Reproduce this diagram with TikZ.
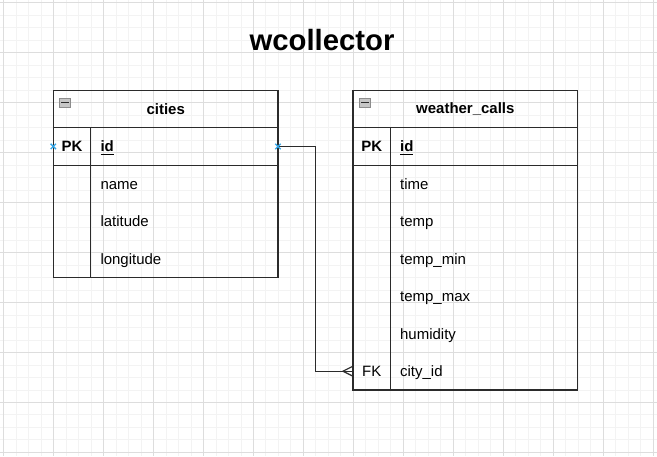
\documentclass[tikz,border=0pt]{standalone}
\usepackage{fontspec}
\setmainfont{Liberation Sans}
\usetikzlibrary{positioning}

\definecolor{gridminor}{HTML}{F3F3F3}
\definecolor{gridmajor}{HTML}{DDDDDD}
\definecolor{linedark}{HTML}{2B2B2B}
\definecolor{markblue}{HTML}{33A6E8}
\definecolor{iconfill}{HTML}{C6C6C6}
\definecolor{iconline}{HTML}{8C8C8C}

\begin{document}
\begin{tikzpicture}[x=0.75pt,y=-0.75pt,node distance=0pt,line width=0.9pt,
    table head/.style={draw=linedark,minimum width=168.75pt,minimum height=28.125pt,inner sep=0pt,outer sep=0pt,font=\fontsize{11.25}{13.5}\selectfont\bfseries},
    key cell/.style={minimum width=28.125pt,minimum height=28.125pt,inner sep=0pt,outer sep=0pt,text height=8.2pt,text depth=0.2pt,font=\fontsize{11.25}{13.5}\selectfont},
    field cell/.style={minimum height=28.125pt,text width=126pt,inner xsep=7.3pt,inner ysep=0pt,outer sep=0pt,align=left,text height=8.2pt,text depth=0.2pt,font=\fontsize{11.25}{13.5}\selectfont},
    collapse box/.style={draw=iconline,fill=iconfill,line width=0.5pt,minimum width=8pt,minimum height=7pt,inner sep=0pt},
    marker/.style={draw=markblue,line width=1pt},
    frame/.style={draw=linedark}]

    % background grid
    \fill[white] (0,0) rectangle (657,456);
    \foreach \i in {0,...,52}
        \draw[gridminor,line width=0.6pt] ({3.3+12.5*\i},0) -- ({3.3+12.5*\i},456);
    \foreach \i in {0,...,36}
        \draw[gridminor,line width=0.6pt] (0,{2.5+12.5*\i}) -- (657,{2.5+12.5*\i});
    \foreach \i in {0,...,13}
        \draw[gridmajor,line width=0.6pt] ({3.3+50*\i},0) -- ({3.3+50*\i},456);
    \foreach \i in {0,...,9}
        \draw[gridmajor,line width=0.6pt] (0,{2.5+50*\i}) -- (657,{2.5+50*\i});
    \useasboundingbox (0,0) rectangle (657,456);

    \node[font=\fontsize{22}{26}\selectfont\bfseries] (title) at (322,40) {wcollector};

    % cities
    \node[table head] (cities) at (165.5,108.75) {cities};
    \node[key cell, below right=0pt of cities.south west] (ck1) {\textbf{PK}};
    \node[field cell, right=0pt of ck1] (cf1) {\textbf{\underline{id}}};
    \node[key cell, below=0pt of ck1] (ck2) {};
    \node[field cell, right=0pt of ck2] (cf2) {name};
    \node[key cell, below=0pt of ck2] (ck3) {};
    \node[field cell, right=0pt of ck3] (cf3) {latitude};
    \node[key cell, below=0pt of ck3] (ck4) {};
    \node[field cell, right=0pt of ck4] (cf4) {longitude};

    \draw[frame] (cities.south west) rectangle (cf4.south east);
    \draw[frame] (ck1.north east) -- (ck4.south east);
    \draw[frame] (ck1.south west) -- (cf1.south east);

    % weather_calls
    \node[table head] (weather) at (465.5,108.75) {weather\_calls};
    \node[key cell, below right=0pt of weather.south west] (wk1) {\textbf{PK}};
    \node[field cell, right=0pt of wk1] (wf1) {\textbf{\underline{id}}};
    \node[key cell, below=0pt of wk1] (wk2) {};
    \node[field cell, right=0pt of wk2] (wf2) {time};
    \node[key cell, below=0pt of wk2] (wk3) {};
    \node[field cell, right=0pt of wk3] (wf3) {temp};
    \node[key cell, below=0pt of wk3] (wk4) {};
    \node[field cell, right=0pt of wk4] (wf4) {temp\_min};
    \node[key cell, below=0pt of wk4] (wk5) {};
    \node[field cell, right=0pt of wk5] (wf5) {temp\_max};
    \node[key cell, below=0pt of wk5] (wk6) {};
    \node[field cell, right=0pt of wk6] (wf6) {humidity};
    \node[key cell, below=0pt of wk6] (wk7) {FK};
    \node[field cell, right=0pt of wk7] (wf7) {city\_id};

    \draw[frame] (weather.south west) rectangle (wf7.south east);
    \draw[frame] (wk1.north east) -- (wk7.south east);
    \draw[frame] (wk1.south west) -- (wf1.south east);

    % collapse icons
    \node[collapse box, below right=5.5pt and 4.6pt of cities.north west] (cbox) {};
    \draw[linedark,line width=0.8pt] ([xshift=1.3pt]cbox.west) -- ([xshift=-1.3pt]cbox.east);
    \node[collapse box, below right=5.5pt and 4.6pt of weather.north west] (wbox) {};
    \draw[linedark,line width=0.8pt] ([xshift=1.3pt]wbox.west) -- ([xshift=-1.3pt]wbox.east);

    % relation
    \draw[frame] (cf1.east) -- ++(28.3pt,0) |- (wk7.west);
    \draw[frame] (wk7.west) ++(0,3.75pt) -- ++(-7.5pt,-3.75pt) -- ++(7.5pt,-3.75pt);

    % connection markers
    \draw[marker] (ck1.west) ++(-2pt,-2pt) -- ++(4pt,4pt) ++(-4pt,0) -- ++(4pt,-4pt);
    \draw[marker] (cf1.east) ++(-2pt,-2pt) -- ++(4pt,4pt) ++(-4pt,0) -- ++(4pt,-4pt);
\end{tikzpicture}
\end{document}
